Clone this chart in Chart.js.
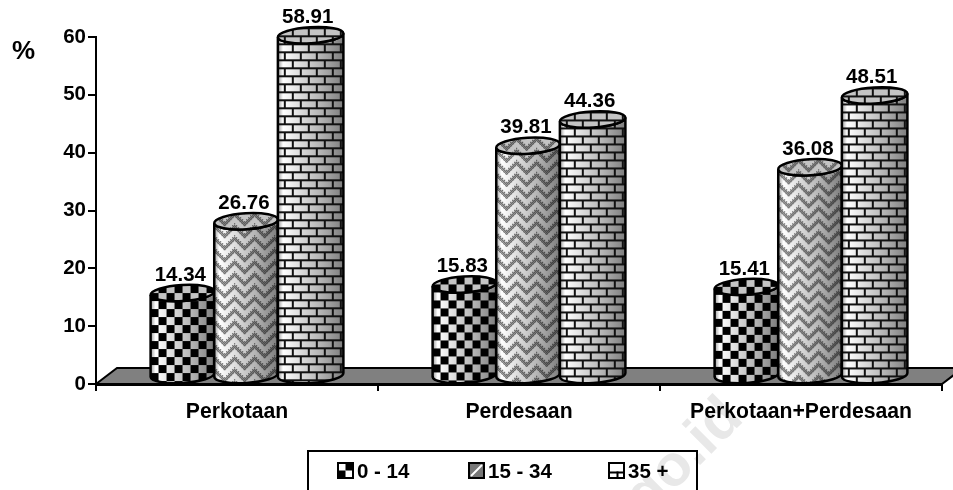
<!DOCTYPE html>
<html>
<head>
<meta charset="utf-8">
<style>
  html, body { margin: 0; padding: 0; background: #fff; overflow: hidden; }
  canvas { display: block; }
</style>
<script src="https://cdn.jsdelivr.net/npm/chart.js@4"></script>
</head>
<body>
<canvas id="chart" width="953" height="490"></canvas>
<script>
const categories = ['Perkotaan', 'Perdesaan', 'Perkotaan+Perdesaan'];
const seriesNames = ['0 - 14', '15 - 34', '35 +'];
const youngValues = [14.34, 15.83, 15.41];
const middleValues = [26.76, 39.81, 36.08];
const olderValues = [58.91, 44.36, 48.51];
const axisTitle = '%';
const watermark = 'bps.go.id';

const FONT = '"Liberation Sans", Arial, sans-serif';

function tile(w, h, paint) {
  const c = document.createElement('canvas');
  c.width = w;
  c.height = h;
  paint(c.getContext('2d'));
  return c;
}

// black squares only, the shading shows through the rest
const checkerTile = tile(16, 16, g => {
  g.fillStyle = '#000';
  g.fillRect(0, 0, 8, 8);
  g.fillRect(8, 8, 8, 8);
});

// stair-stepped herringbone, the dark band is dithered
const zigzagTile = tile(20, 12, g => {
  for (let y = 0; y < 12; y++) {
    for (let x = 0; x < 20; x++) {
      const step = Math.floor(Math.abs(x - 10) / 2) * 2;
      if ((y + step) % 12 >= 5) continue;
      g.fillStyle = (x + y) % 2 === 0 ? 'rgba(0,0,0,0.7)' : 'rgba(0,0,0,0.2)';
      g.fillRect(x, y, 1, 1);
    }
  }
});

const brickTile = tile(32, 16, g => {
  g.fillStyle = '#111';
  g.fillRect(0, 0, 32, 2);
  g.fillRect(0, 8, 32, 2);
  g.fillRect(6, 0, 2, 8);
  g.fillRect(22, 0, 2, 8);
  g.fillRect(14, 8, 2, 8);
  g.fillRect(30, 8, 2, 8);
});

const tiles = [checkerTile, zigzagTile, brickTile];

// the cylinders stand on the floor, behind the front edge of the axis
const DEPTH_X = 9;
const DEPTH_Y = 8;
const RY = 8;
const TILT = -0.06;

function drawCylinder(ctx, bar, pic, grow) {
  const cx = bar.x + DEPTH_X + grow;
  const rx = bar.width / 2 + grow;
  const top = bar.y - DEPTH_Y;
  const base = bar.base - DEPTH_Y;
  const left = cx - rx;
  const right = cx + rx;

  const body = () => {
    ctx.beginPath();
    ctx.ellipse(cx, base, rx, RY, TILT, Math.PI, 0, true);
    ctx.ellipse(cx, top, rx, RY, TILT, 0, Math.PI, false);
    ctx.closePath();
  };

  const shade = ctx.createLinearGradient(left, 0, right, 0);
  shade.addColorStop(0, '#9a9a9a');
  shade.addColorStop(0.08, '#ffffff');
  shade.addColorStop(0.3, '#e2e2e2');
  shade.addColorStop(0.65, '#b4b4b4');
  shade.addColorStop(1, '#7d7d7d');

  const pattern = ctx.createPattern(pic, 'repeat');
  pattern.setTransform(new DOMMatrix().translate(left, top));

  body();
  ctx.fillStyle = shade;
  ctx.fill();
  ctx.fillStyle = pattern;
  ctx.fill();
  ctx.lineWidth = 2.5;
  ctx.strokeStyle = '#000';
  ctx.stroke();

  ctx.beginPath();
  ctx.ellipse(cx, top, rx, RY, TILT, 0, Math.PI * 2);
  ctx.fillStyle = '#c4c4c4';
  ctx.fill();
  ctx.fillStyle = pattern;
  ctx.fill();
  ctx.stroke();
}

function drawSwatch(ctx, x, y, i) {
  const s = 15;
  ctx.fillStyle = '#fff';
  ctx.fillRect(x, y, s, s);
  ctx.fillStyle = '#000';
  if (i === 0) {
    ctx.fillRect(x + s / 2, y, s / 2, s / 2);
    ctx.fillRect(x, y + s / 2, s / 2, s / 2);
  } else if (i === 1) {
    ctx.fillStyle = '#777';
    ctx.fillRect(x, y, s, s);
    ctx.strokeStyle = '#fff';
    ctx.lineWidth = 2;
    ctx.beginPath();
    ctx.moveTo(x + 2, y + s - 2);
    ctx.lineTo(x + s - 2, y + 2);
    ctx.stroke();
  } else {
    ctx.fillRect(x, y + s / 2 + 1, s, 2);
    ctx.fillRect(x + s / 2, y + s / 2 + 1, 2, s / 2);
  }
  ctx.strokeStyle = '#000';
  ctx.lineWidth = 2;
  ctx.strokeRect(x, y, s, s);
}

const cylinderPlugin = {
  id: 'cylinders',
  beforeDraw(chart) {
    const ctx = chart.ctx;
    ctx.save();
    ctx.translate(745, 420);
    ctx.rotate(-45 * Math.PI / 180);
    ctx.font = 'bold 58px ' + FONT;
    ctx.fillStyle = '#e8e8e8';
    ctx.textAlign = 'right';
    ctx.textBaseline = 'alphabetic';
    ctx.fillText(watermark, 0, 0);
    ctx.restore();
  },
  beforeDatasetsDraw(chart) {
    const ctx = chart.ctx;
    const a = chart.chartArea;
    const backY = a.bottom - 16;
    ctx.save();
    ctx.beginPath();
    ctx.moveTo(a.left, a.bottom);
    ctx.lineTo(a.left + 21, backY);
    ctx.lineTo(a.right + 21, backY);
    ctx.lineTo(a.right, a.bottom);
    ctx.closePath();
    ctx.fillStyle = '#808080';
    ctx.fill();
    ctx.strokeStyle = '#000';
    ctx.lineWidth = 2;
    ctx.stroke();
    ctx.restore();
  },
  afterDatasetsDraw(chart) {
    const ctx = chart.ctx;
    ctx.save();
    chart.data.datasets.forEach((ds, i) => {
      chart.getDatasetMeta(i).data.forEach(bar => drawCylinder(ctx, bar, tiles[i], i === 2 ? 1 : 0));
    });
    ctx.font = 'bold 20.5px ' + FONT;
    ctx.fillStyle = '#000';
    ctx.textAlign = 'center';
    ctx.textBaseline = 'middle';
    chart.data.datasets.forEach((ds, i) => {
      chart.getDatasetMeta(i).data.forEach((bar, j) => {
        ctx.fillText(ds.data[j].toFixed(2), bar.x + DEPTH_X - 2, bar.y - DEPTH_Y - 18);
      });
    });
    ctx.restore();
  },
  afterDraw(chart) {
    const ctx = chart.ctx;
    ctx.save();
    ctx.fillStyle = '#000';
    ctx.textBaseline = 'middle';
    ctx.textAlign = 'left';
    ctx.font = 'bold 26px ' + FONT;
    ctx.fillText(axisTitle, 12, 52);

    // legend frame runs off the bottom of the page
    ctx.strokeStyle = '#000';
    ctx.lineWidth = 2;
    ctx.strokeRect(308, 451, 389, 60);
    ctx.font = 'bold 20.5px ' + FONT;
    const swatchX = [338, 469, 609];
    chart.data.datasets.forEach((ds, i) => {
      drawSwatch(ctx, swatchX[i], 463, i);
      ctx.fillStyle = '#000';
      ctx.textBaseline = 'middle';
      ctx.fillText(ds.label, swatchX[i] + 19, 472);
    });
    ctx.restore();
  }
};

new Chart(document.getElementById('chart').getContext('2d'), {
  type: 'bar',
  data: {
    labels: categories,
    datasets: [
      {label: seriesNames[0], data: youngValues},
      {label: seriesNames[1], data: middleValues},
      {label: seriesNames[2], data: olderValues},
    ].map(ds => ({...ds, backgroundColor: 'rgba(0,0,0,0)', categoryPercentage: 0.677, barPercentage: 1}))
  },
  options: {
    responsive: false,
    animation: false,
    layout: {padding: {top: 37, right: 11, bottom: 66, left: 0}},
    plugins: {legend: {display: false}, tooltip: {enabled: false}},
    scales: {
      x: {
        afterFit: scale => { scale.height = 40; },
        grid: {drawOnChartArea: false, color: '#000', lineWidth: 2, tickLength: 7},
        border: {color: '#000', width: 3, z: 1},
        ticks: {color: '#000', font: {family: FONT, size: 21.2, weight: 'bold'}, padding: 8, maxRotation: 0}
      },
      y: {
        min: 0,
        max: 60,
        afterFit: scale => { scale.width = 96; },
        grid: {drawOnChartArea: false, color: '#000', lineWidth: 2, tickLength: 8},
        border: {color: '#000', width: 2, z: 1},
        ticks: {color: '#000', font: {family: FONT, size: 20.5, weight: 'bold'}, stepSize: 10, padding: 2}
      }
    }
  },
  plugins: [cylinderPlugin]
});
</script>
</body>
</html>
